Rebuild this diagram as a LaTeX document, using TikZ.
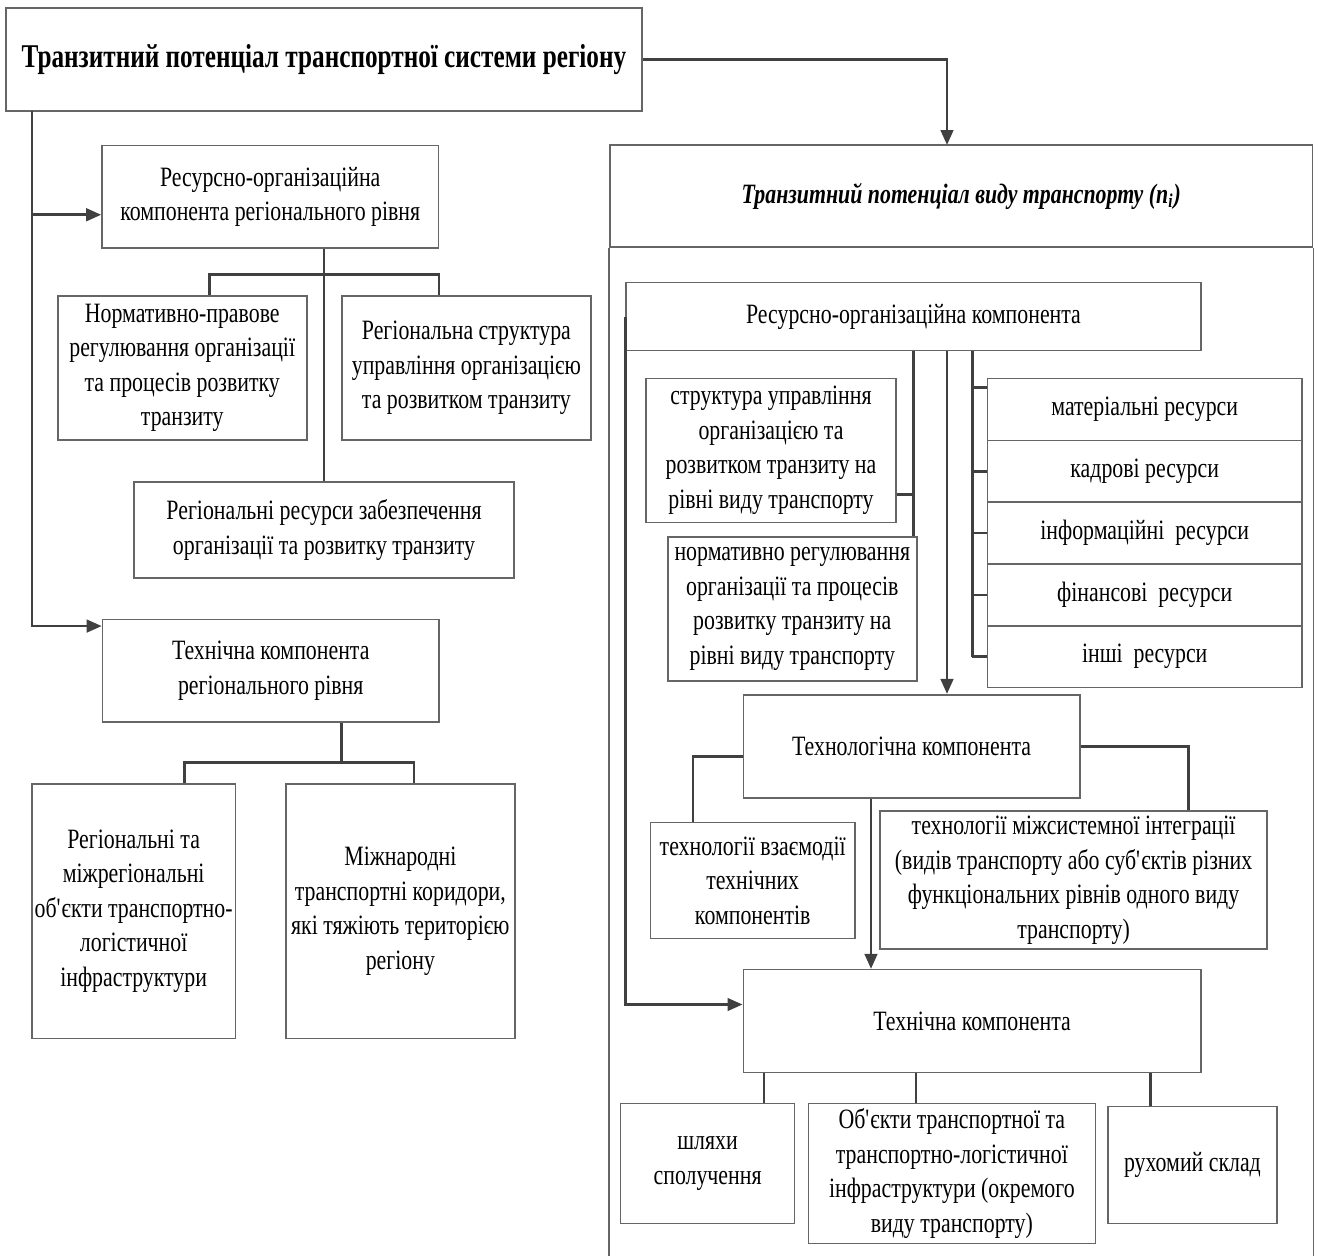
\documentclass[tikz,border=0pt]{standalone}
\usepackage{fontspec}
\setmainfont{Liberation Serif}[FakeStretch=0.78]
\newfontfamily{\titlefam}{Liberation Serif}[FakeStretch=0.76]
\usetikzlibrary{arrows.meta}
\newcommand{\boxfont}{\fontsize{14}{17.25}\selectfont}
\newcommand{\headfont}{\titlefam\fontsize{16.6}{20}\selectfont\bfseries}
\newcommand{\apos}{\textquotesingle}

\begin{document}
\begin{tikzpicture}[x=0.5pt,y=-0.5pt,
  box/.style={draw=black!60, line width=0.8pt, inner sep=1pt, align=center, font=\boxfont},
  sz/.style 2 args={minimum width=#1*0.5pt, minimum height=#2*0.5pt},
  conn/.style={draw=black!75, line width=1.3pt},
  >={Triangle[length=7.5pt,width=6.3pt]}]
\useasboundingbox (0,0) rectangle (1318,1255);

\node[box,sz={636}{103},font=\headfont] (title) at (324,59.5) {Транзитний потенціал транспортної системи регіону};

\node[box,sz={336.5}{102.5}] (roreg) at (270.25,196.75) {Ресурсно-організаційна\\компонента регіонального рівня};
\node[box,sz={249}{144}] (norm) at (182.25,368) {Нормативно-правове\\регулювання організації\\та процесів розвитку\\транзиту};
\node[box,sz={249.2}{144}] (regstr) at (466.4,368) {Регіональна структура\\управління організацією\\та розвитком транзиту};
\node[box,sz={380}{96}] (regres) at (324,530) {Регіональні ресурси забезпечення\\організації та розвитку транзиту};
\node[box,sz={336.5}{102.7}] (techreg) at (270.75,670.65) {Технічна компонента\\регіонального рівня};
\node[box,sz={203.9}{254.3}] (regobj) at (133.65,911.15) {Регіональні та\\міжрегіональні\\об\apos єкти транспортно-\\логістичної\\інфраструктури};
\node[box,sz={228.7}{254.3}] (corr) at (400.35,911.15) {Міжнародні\\транспортні коридори,\\які тяжіють територією\\регіону};

\node[box,sz={702.5}{102}] (vid) at (961.25,196) {\bfseries\itshape Транзитний потенціал виду транспорту (n\textsubscript{i})};
\node[box,sz={575}{67.8}] (ro) at (913.5,316.5) {Ресурсно-організаційна компонента};
\node[box,sz={249.6}{143.7}] (struct) at (771,450.45) {структура управління\\організацією та\\розвитком транзиту на\\рівні виду транспорту};
\node[box,sz={249}{143.8}] (normt) at (792.3,608.9) {нормативно регулювання\\організації та процесів\\розвитку транзиту на\\рівні виду транспорту};
\foreach \t [count=\i] in {матеріальні ресурси, кадрові ресурси, інформаційні\ \ ресурси, фінансові\ \ ресурси, інші\ \ ресурси}
  \node[box,sz={314.6}{61.8}] (res\i) at (1144.7,347.7+61.8*\i) {\t};
\node[box,sz={336.6}{103.3}] (techn) at (911.6,746.35) {Технологічна компонента};
\node[box,sz={204.6}{116.2}] (vzaem) at (752.7,880.4) {технології взаємодії\\технічних\\компонентів};
\node[box,sz={386.8}{137.5}] (mizh) at (1073.6,880) {технології міжсистемної інтеграції\\(видів транспорту або суб\apos єктів різних\\функціональних рівнів одного виду\\транспорту)};
\node[box,sz={457.7}{102.7}] (techc) at (972.15,1021) {Технічна компонента};
\node[box,sz={174}{120}] (shl) at (707.6,1163.5) {шляхи\\сполучення};
\node[box,sz={287}{140}] (obj) at (951.85,1173.5) {Об\apos єкти транспортної та\\транспортно-логістичної\\інфраструктури (окремого\\виду транспорту)};
\node[box,sz={168.5}{117}] (rukh) at (1192.45,1165) {рухомий склад};

\coordinate (lt) at (32,111);
\coordinate (vidin) at (947,145);
\coordinate (ax) at (947,0);
\coordinate (rx) at (972.3,0);
\coordinate (bx) at (871,0);

\path[draw=black!60,line width=0.8pt] (vid.south west) -- ++(0,1015);
\path[draw=black!60,line width=0.8pt] (vid.south east) -- ++(0,1015);

\path[draw,conn,->] (title.east) -| (vidin);
\path[draw,conn,->] (lt) |- ([yshift=-9pt]roreg.west);
\path[draw,conn,->] (lt) |- ([yshift=22.3pt]techreg.west);

\path[draw,conn] (regres.north) -- (regres.north |- roreg.south);
\path[draw,conn] ([xshift=13.7pt]norm.north) -- ++(0,-20.5) -| ([xshift=-13.7pt]regstr.north);
\path[draw,conn] ([xshift=35.5pt]techreg.south) -- ++(0,41.5);
\path[draw,conn] ([xshift=25.4pt]regobj.north) -- ++(0,-20.5) -| ([xshift=6.8pt]corr.north);

\path[draw,conn,->] (ro.west) |- ([yshift=8.25pt]techc.west);
\path[draw,conn] (ro.south) -- (ro.south |- normt.north);
\path[draw,conn] ([yshift=-22pt]struct.east) -- ++(17.8,0);
\path[draw,conn,->] (ro.south -| ax) -- (techn.north -| ax);
\path[draw,conn] (ro.south -| rx) -- (res5.west -| rx);
\path[draw,conn] ([yshift=11pt]res1.west -| rx) -- ([yshift=11pt]res1.west);
\foreach \i in {2,...,5}
  \path[draw,conn] (res\i.west -| rx) -- (res\i.west);

\path[draw,conn] ([yshift=-5pt]techn.west) -| ([xshift=-29.85pt]vzaem.north);
\path[draw,conn] (techn.east) -| ([xshift=57.4pt]mizh.north);
\path[draw,conn,->] (techn.south -| bx) -- (techc.north -| bx);

\foreach \n/\s in {shl/28.2pt, obj/-17.9pt, rukh/-21pt}
  \path[draw,conn] ([xshift=\s]\n.north) -- ([xshift=\s]\n.north |- techc.south);
\end{tikzpicture}
\end{document}
